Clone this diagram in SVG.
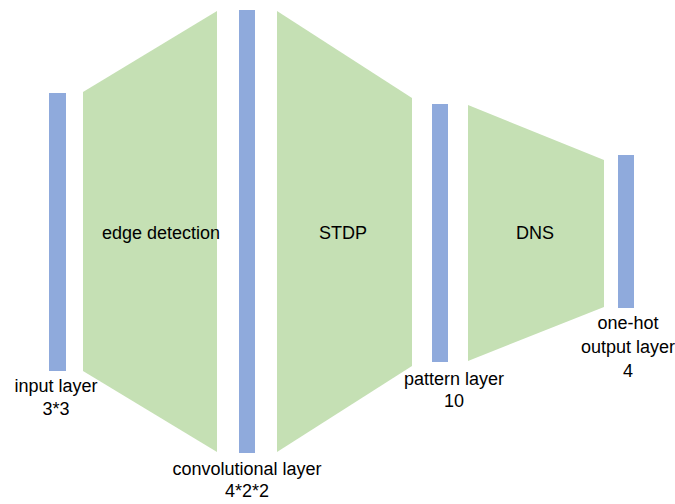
<svg xmlns="http://www.w3.org/2000/svg" width="675" height="504" viewBox="0 0 675 504">
<style>
.bar{fill:#8FAADC}
.trap{fill:#C5E0B4}
text{font-family:"Liberation Sans",Arial,sans-serif;font-size:18px;fill:#000;text-anchor:middle}
</style>
<rect width="675" height="504" fill="#fff"/>
<g id="input-layer">
<rect class="bar" x="49" y="93" width="17" height="278"/>
<text x="56" y="392">input layer</text>
<text x="56" y="415">3*3</text>
</g>
<g id="edge-detection">
<polygon class="trap" points="83,92 217,11 217,452 83,371"/>
<text x="161" y="239">edge detection</text>
</g>
<g id="convolutional-layer">
<rect class="bar" x="239" y="10" width="16" height="443"/>
<text x="247" y="475">convolutional layer</text>
<text x="247" y="497">4*2*2</text>
</g>
<g id="stdp">
<polygon class="trap" points="277,11 412,98 412,366 277,452"/>
<text x="343" y="239">STDP</text>
</g>
<g id="pattern-layer">
<rect class="bar" x="432" y="104" width="16" height="258"/>
<text x="454" y="385">pattern layer</text>
<text x="454" y="407">10</text>
</g>
<g id="dns">
<polygon class="trap" points="468,105 604,160 604,307 468,361"/>
<text x="535" y="239">DNS</text>
</g>
<g id="output-layer">
<rect class="bar" x="618" y="155" width="16" height="153"/>
<text x="628" y="329">one-hot</text>
<text x="628" y="353">output layer</text>
<text x="628" y="377">4</text>
</g>
<g id="connectors"></g>
</svg>
